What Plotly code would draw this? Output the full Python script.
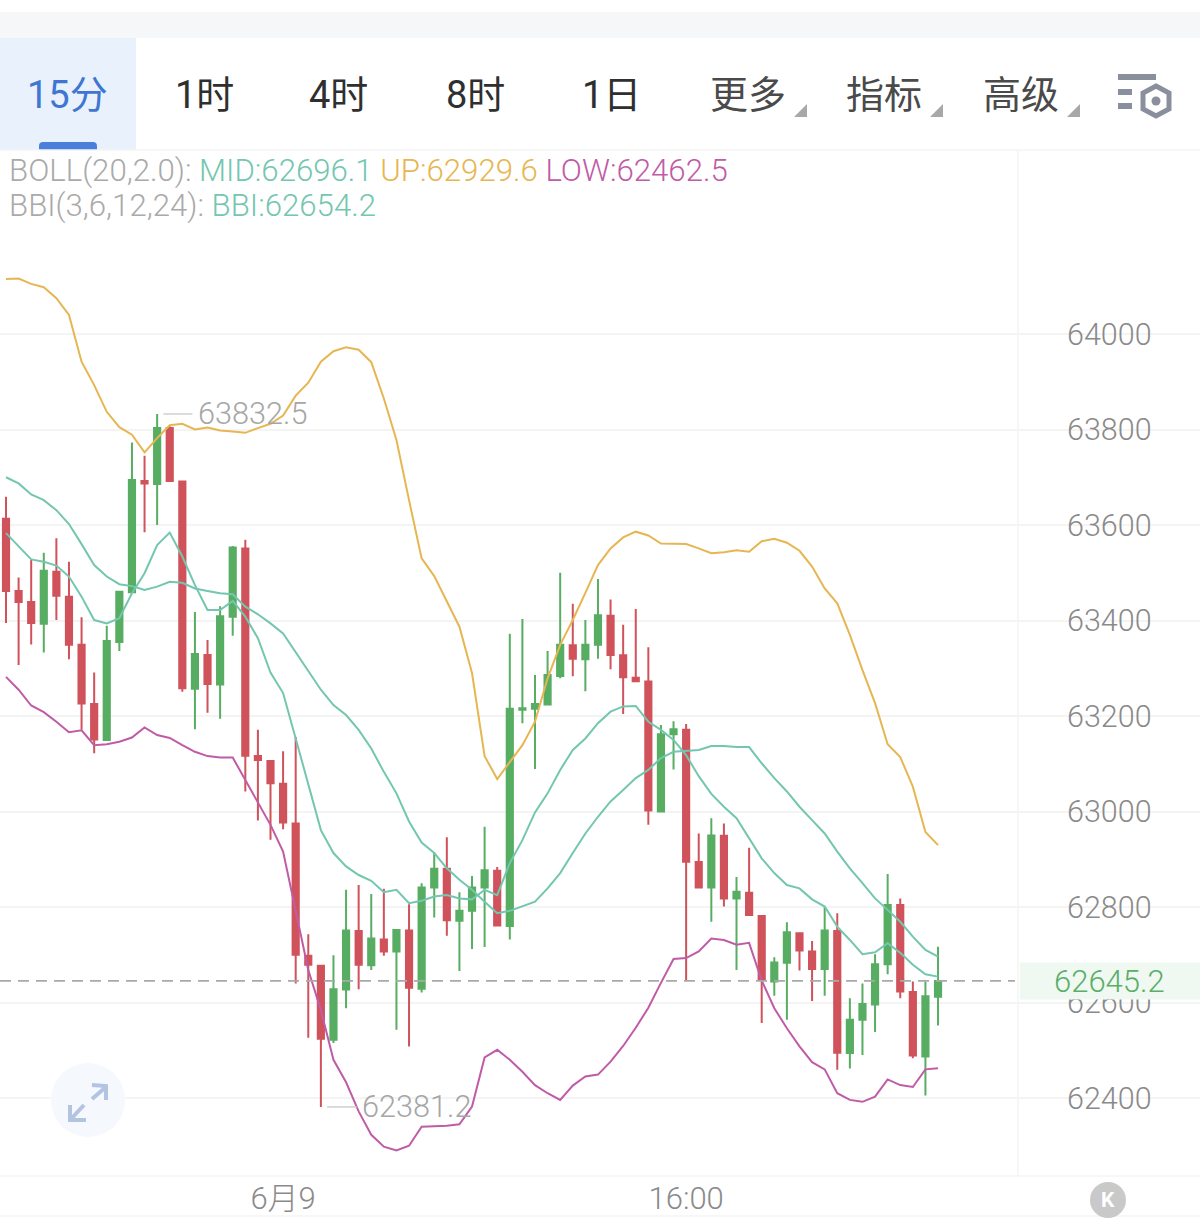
import plotly.graph_objects as go

W, H = 1200, 1221
TOP, BOTTOM = 150, 1176

# 15-minute bars
open_ = [63613,63462,63439,63393,63502,63450,63349,63225,63150,63355,63459,63692,63686,63803,63691,
         63257,63328,63266,63408,63551,63116,63106,63058,62975,62698,62677,62522,62627,62750,62678,
         62732,62707,62751,62629,62841,62880,62771,62792,62841,62876,62760,63213,63215,63224,63284,
         63348,63319,63349,63410,63327,63280,63272,63000,63162,63171,62894,62841,62949,62818,62830,
         62781,62644,62683,62745,62707,62670,62750,62494,62564,62596,62680,62804,62622,62487,62612]
close = [63462,63439,63395,63504,63452,63349,63226,63151,63357,63460,63694,63687,63803,63692,63258,
         63330,63267,63409,63553,63117,63108,63059,62977,62700,62679,62524,62628,62751,62679,62734,
         62707,62752,62631,62841,62880,62772,62792,62841,62877,62761,63215,63216,63225,63286,63349,
         63320,63349,63411,63328,63281,63273,63002,63162,63172,62895,62841,62950,62818,62832,62783,
         62647,62684,62747,62709,62670,62751,62495,62564,62597,62680,62804,62623,62489,62613,62645.2]
high = [63659,63490,63527,63542,63572,63523,63407,63291,63389,63460,63773,63745,63832.5,63807,63692,
        63418,63359,63430,63556,63569,63171,63106,63126,63156,62743,62677,62699,62836,62846,62827,
        62838,62753,62806,62850,62915,62946,62831,62865,62968,62884,63372,63403,63286,63336,63500,
        63435,63401,63487,63444,63391,63424,63344,63181,63189,63183,62954,62986,62975,62863,62924,
        62782,62695,62768,62745,62729,62801,62787,62609,62640,62701,62869,62818,62644,62644,62717]
low = [63395,63307,63350,63333,63401,63319,63171,63122,63150,63336,63459,63585,63600,63692,63251,
       63172,63207,63194,63368,63042,62981,62941,62963,62640,62526,62381.2,62515,62588,62628,62668,
       62698,62543,62508,62621,62778,62740,62666,62712,62716,62761,62732,63185,63089,63224,63279,
       63283,63252,63320,63298,63204,63273,62972,63000,63088,62647,62841,62769,62801,62668,62783,
       62557,62614,62564,62667,62603,62614,62459,62462,62490,62538,62659,62609,62483,62405,62552]

# Bollinger bands and BBI
boll_up = [64115,64116,64105,64098,64075,64040,63942,63893,63837,63805,63789,63752,63782,63809,63812,
           63800,63804,63798,63796,63793,63803,63812,63829,63871,63898,63942,63964,63972,63967,63941,
           63865,63778,63652,63530,63493,63439,63387,63290,63116,63068,63104,63139,63188,63279,63349,
           63401,63458,63516,63551,63574,63586,63578,63561,63561,63560,63551,63541,63543,63547,63544,
           63566,63571,63563,63546,63513,63467,63436,63370,63296,63227,63141,63114,63052,62957,62929.6]
boll_mid = [63700,63687,63664,63652,63631,63602,63560,63516,63492,63476,63472,63464,63471,63481,63479,
            63467,63462,63457,63455,63429,63413,63394,63373,63334,63296,63255,63223,63202,63171,63132,
            63083,63038,62979,62935,62913,62881,62857,62836,62811,62787,62792,62801,62811,62839,62871,
            62913,62954,62989,63021,63045,63070,63087,63112,63125,63127,63129,63137,63137,63135,63135,
            63101,63070,63042,63010,62982,62954,62916,62881,62850,62818,62794,62769,62738,62710,62696.1]
boll_low = [63282,63255,63222,63208,63188,63166,63170,63139,63141,63146,63155,63176,63160,63154,63139,
            63125,63116,63113,63113,63066,63017,62972,62916,62794,62668,62584,62480,62433,62372,62323,
            62298,62290,62300,62340,62341,62342,62345,62382,62485,62501,62480,62455,62427,62410,62396,
            62426,62445,62449,62476,62509,62547,62589,62641,62691,62693,62707,62734,62731,62721,62725,
            62646,62588,62546,62508,62475,62460,62410,62396,62392,62403,62439,62427,62423,62460,62462.5]
bbi = [63583,63555,63528,63523,63515,63492,63450,63401,63394,63405,63457,63499,63558,63584,63534,
       63474,63422,63422,63441,63408,63363,63291,63248,63153,63056,62961,62913,62885,62867,62855,
       62831,62836,62808,62813,62822,62825,62818,62816,62836,62825,62892,62940,62998,63038,63087,
       63129,63153,63185,63209,63220,63221,63188,63171,63150,63118,63074,63037,63010,62986,62944,
       62902,62871,62846,62839,62816,62801,62759,62731,62701,62705,62724,62704,62679,62659,62654.2]

bar_index = list(range(len(close)))
price_ticks = [64000, 63800, 63600, 63400, 63200, 63000, 62800, 62600, 62400]
time_ticks = [22, 54]
time_labels = ["6月9", "16:00"]
tabs = ["1时", "4时", "8时", "1日", "更多", "指标", "高级"]
tab_centres = [204, 339, 475, 611, 748, 884, 1021]

UP_CANDLE, DOWN_CANDLE = "#57ad62", "#d0525b"
MID_COL, UP_COL, LOW_COL = "#73c6af", "#e6b652", "#c05ca6"
GRID = "#f4f4f5"
SANS = "Roboto, 'Noto Sans CJK SC', sans-serif"


def px(x):
    return x / W


def py(y):
    return 1 - y / H


# 95.5 pixels per 200 price units, anchored on the 64000 gridline at y=334
UNITS_PER_PX = 200 / 95.5
y_top = 64000 + (334 - TOP) * UNITS_PER_PX
y_bottom = 64000 - (BOTTOM - 334) * UNITS_PER_PX
# bars sit 12.595 pixels apart, the first at x=6
x_left = -6 / 12.595
x_right = (W - 6) / 12.595

fig = go.Figure()
fig.add_trace(go.Candlestick(
    x=bar_index, open=open_, high=high, low=low, close=close,
    increasing=dict(line=dict(color=UP_CANDLE, width=2), fillcolor=UP_CANDLE),
    decreasing=dict(line=dict(color=DOWN_CANDLE, width=2), fillcolor=DOWN_CANDLE),
    whiskerwidth=0, hoverinfo="skip", showlegend=False,
))
for series, colour in ((boll_up, UP_COL), (boll_mid, MID_COL), (bbi, MID_COL), (boll_low, LOW_COL)):
    fig.add_trace(go.Scatter(x=bar_index, y=series, mode="lines", hoverinfo="skip", showlegend=False,
                             line=dict(color=colour, width=2)))


def rect(x0, y0, x1, y1, fill, layer="above"):
    return dict(type="rect", xref="paper", yref="paper", x0=px(x0), x1=px(x1), y0=py(y0), y1=py(y1),
                fillcolor=fill, line=dict(width=0), layer=layer)


def hline(y, x0=0, x1=W, colour=GRID):
    return dict(type="line", xref="paper", yref="paper", x0=px(x0), x1=px(x1), y0=py(y), y1=py(y),
                line=dict(color=colour, width=1.5), layer="above")


def path(points, fill=None, colour=None, width=0, closed=False):
    d = "M " + " L ".join(f"{px(a):.5f},{py(b):.5f}" for a, b in points) + (" Z" if closed else "")
    return dict(type="path", xref="paper", yref="paper", path=d, fillcolor=fill or "rgba(0,0,0,0)",
                line=dict(color=colour or "rgba(0,0,0,0)", width=width), layer="above")


def circle(cx, cy, r, fill):
    return dict(type="circle", xref="paper", yref="paper", x0=px(cx - r), x1=px(cx + r),
                y0=py(cy - r), y1=py(cy + r), fillcolor=fill, line=dict(width=0), layer="above")


shapes = [
    # keeps the gridlines clear of the price scale
    rect(1031, TOP, 1188, BOTTOM, "#ffffff", layer="between"),
    # toolbar
    rect(0, 12, W, 38, "#f6f7f9"),
    rect(0, 38, 136, 150, "#e9f1fc"),
    dict(type="path", xref="paper", yref="paper", fillcolor="#4a80dc", line=dict(width=0), layer="above",
         path=f"M {px(39):.5f},{py(150):.5f} L {px(39):.5f},{py(146):.5f} Q {px(39):.5f},{py(142):.5f} "
              f"{px(43):.5f},{py(142):.5f} L {px(93):.5f},{py(142):.5f} Q {px(97):.5f},{py(142):.5f} "
              f"{px(97):.5f},{py(146):.5f} L {px(97):.5f},{py(150):.5f} Z"),
    hline(150),
    hline(BOTTOM),
    hline(1216),
    dict(type="line", xref="paper", yref="paper", x0=px(1018), x1=px(1018), y0=py(TOP), y1=py(BOTTOM),
         line=dict(color=GRID, width=1.5), layer="above"),
    # latest price
    rect(1020, 962.5, W, 999.5, "#eff9f2"),
    dict(type="line", xref="x", yref="y", x0=x_left, x1=(1015 - 6) / 12.595, y0=close[-1], y1=close[-1],
         line=dict(color="#a9a9a9", width=1.8, dash="11px,7px"), layer="above"),
    # leader lines of the session high and low
    dict(type="line", xref="x", yref="y", x0=12.5, x1=14.8, y0=high[12], y1=high[12],
         line=dict(color="#c4c4c4", width=1.2), layer="above"),
    dict(type="line", xref="x", yref="y", x0=25.5, x1=27.9, y0=low[25], y1=low[25],
         line=dict(color="#c4c4c4", width=1.2), layer="above"),
    # expand button
    circle(88, 1100, 37, "#f5f8fd"),
    path([(92, 1099), (106, 1087)], colour="#b2c4e2", width=4),
    path([(92, 1085), (106, 1086), (106, 1100)], colour="#b2c4e2", width=4),
    path([(84, 1105), (71, 1119)], colour="#b2c4e2", width=4),
    path([(70, 1105), (70, 1120), (86, 1120)], colour="#b2c4e2", width=4),
    # jump-to-latest button
    circle(1108, 1200, 18, "#c9c9c9"),
    # settings icon
    rect(1118, 74, 1156, 80, "#8a8f9e"),
    rect(1118, 89, 1132, 95, "#8a8f9e"),
    rect(1118, 103, 1132, 109, "#8a8f9e"),
    path([(1156, 86), (1169, 93), (1169, 109), (1156, 116), (1143, 109), (1143, 93)],
         colour="#8a8f9e", width=5, closed=True),
    circle(1156, 101, 4.5, "#8a8f9e"),
]
# dropdown markers
for right in (807, 943, 1080):
    shapes.append(path([(right, 104), (right, 117), (right - 13, 117)], fill="#a8a8a8", closed=True))


def label(text, x, y, size, colour, anchor="center", family=SANS, weight=400):
    return dict(text=text, xref="paper", yref="paper", x=px(x), y=py(y), xanchor=anchor, yanchor="middle",
                showarrow=False, align="left", borderpad=0,
                font=dict(family=family, size=size, color=colour, weight=weight))


def value_tag(text, x, y):
    return dict(text=text, xref="x", yref="y", x=x, y=y, xanchor="left", yanchor="middle", showarrow=False,
                borderpad=0, font=dict(family=SANS, size=30.7, color="#a6a6a6", weight=300))


def tint(colour, text):
    return f'<span style="color:{colour}">{text}</span>'


annotations = [
    label("15分", 67, 95, 38, "#3f76d2"),
    label(tint("#aaaaaa", "BOLL(20,2.0):") + " " + tint(MID_COL, f"MID:{boll_mid[-1]}") + " "
          + tint(UP_COL, f"UP:{boll_up[-1]}") + " " + tint(LOW_COL, f"LOW:{boll_low[-1]}"),
          8, 170, 31.2, "#aaaaaa", anchor="left", weight=300),
    label(tint("#aaaaaa", "BBI(3,6,12,24):") + " " + tint(MID_COL, f"BBI:{bbi[-1]}"),
          8, 205, 31.2, "#aaaaaa", anchor="left", weight=300),
    label(f"{close[-1]}", 1109, 981, 31, "#5aae68", weight=300),
    label("K", 1108, 1200, 21, "#ffffff", weight=700),
    value_tag(f"{high[12]}", 15.2, high[12]),
    value_tag(f"{low[25]}", 28.2, low[25]),
]
for tab, centre in zip(tabs, tab_centres):
    colour = "#2f2f2f" if tab in tabs[:4] else "#4a4a4a"
    annotations.append(label(tab, centre, 95, 38, colour))

fig.update_layout(
    width=W, height=H, margin=dict(l=0, r=0, t=0, b=0), autosize=False,
    paper_bgcolor="#ffffff", plot_bgcolor="#ffffff",
    font=dict(family=SANS), showlegend=False, hovermode=False,
    shapes=shapes, annotations=annotations,
    xaxis=dict(domain=[0, 1], range=[x_left, x_right], rangeslider=dict(visible=False),
               tickmode="array", tickvals=time_ticks, ticktext=time_labels, ticks="",
               ticklabelstandoff=1,
               showgrid=False, zeroline=False, showline=False,
               tickfont=dict(family=SANS, size=31, color="#8a8a8a", weight=300)),
    yaxis=dict(domain=[py(BOTTOM), py(TOP)], range=[y_bottom, y_top], side="right",
               anchor="free", position=px(1066),
               tickmode="array", tickvals=price_ticks, ticks="", tickformat="d",
               showgrid=True, gridcolor=GRID, gridwidth=1.5, zeroline=False, showline=False,
               tickfont=dict(family=SANS, size=30.5, color="#8a8a8a", weight=300)),
)

fig.write_html("out.html")
